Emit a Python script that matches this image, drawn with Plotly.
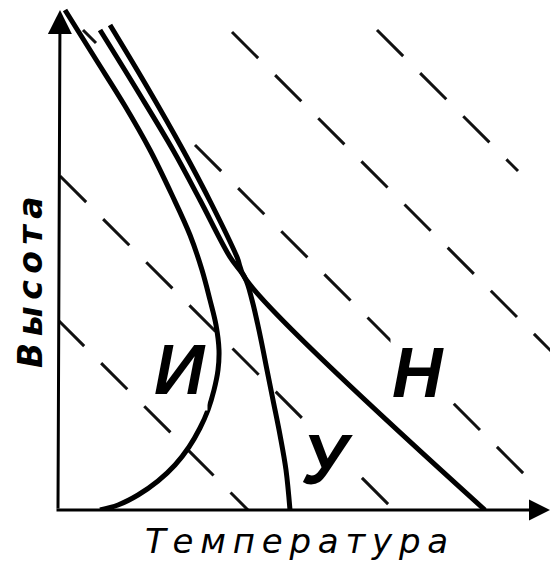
import plotly.graph_objects as go

# schematic: height vs temperature, units are arbitrary
curve_i_t = [7, 37, 67, 92, 114, 132, 144, 152, 158, 161, 160, 156, 150, 142, 131, 117, 100, 80, 60, 42]
curve_i_h = [500, 452, 404, 360, 315, 275, 240, 210, 185, 160, 140, 120, 100, 82, 63, 45, 29, 15, 5, 0]

curve_u_t = [42, 79, 115, 142, 172, 187, 194, 202, 209, 215, 222, 228, 232]
curve_u_h = [480, 420, 360, 310, 253, 232, 210, 175, 140, 110, 75, 40, 0]

curve_n_t = [52, 88, 125, 154, 179, 187, 427]
curve_n_h = [485, 425, 360, 305, 253, 232, 0]

# dry adiabats: H = c - T, drawn between t_from and t_to
adiabat_c = [799, 652, 505, 502, 336, 190]
adiabat_t_from = [319, 174, 25, 137, 2, 0]
adiabat_t_to = [460, 500, 38, 475, 334, 190]

labels = ["И", "У", "Н"]
label_t = [122, 269, 360]
label_h = [140, 50, 137]

x_title = "Температура"
y_title = "Высота"

# page has an 8px body margin, plot area starts at page x=58, H=0 sits at page y=510
X0, Y0 = 58, 510
XSPAN, YSPAN = 508, 502

fig = go.Figure()

for c, t0, t1 in zip(adiabat_c, adiabat_t_from, adiabat_t_to):
    fig.add_trace(go.Scatter(x=[t0, t1], y=[c - t0, c - t1], mode="lines",
                             line=dict(color="#111", width=3, dash="37px,24px"),
                             hoverinfo="skip"))

for xs, ys in [(curve_i_t, curve_i_h), (curve_u_t, curve_u_h), (curve_n_t, curve_n_h)]:
    fig.add_trace(go.Scatter(x=xs, y=ys, mode="lines", line_shape="spline",
                             line=dict(color="#000", width=5), hoverinfo="skip"))

# axis arrows
fig.add_annotation(x=2, y=500, ax=0, ay=0, axref="x", ayref="y", text="",
                   showarrow=True, arrowhead=2, arrowsize=1.6, arrowwidth=3, arrowcolor="#000")
fig.add_annotation(x=492, y=0, ax=-3, ay=0, axref="x", ayref="y", text="",
                   showarrow=True, arrowhead=2, arrowsize=1.4, arrowwidth=3, arrowcolor="#000")

for txt, t, h in zip(labels, label_t, label_h):
    fig.add_annotation(x=t, y=h, text="<b><i>%s</i></b>" % txt, showarrow=False,
                       bgcolor="white", font=dict(family="Liberation Sans", size=70, color="#000"))

thin = "\u2009"
fig.add_annotation(x=(296 - X0) / XSPAN, y=(Y0 - 541) / YSPAN, xref="paper", yref="paper",
                   xanchor="center", yanchor="middle",
                   text="<i>%s</i>" % thin.join(x_title), showarrow=False,
                   font=dict(family="DejaVu Sans", size=34, color="#000"))
fig.add_annotation(x=(30 - X0) / XSPAN, y=(Y0 - 282) / YSPAN, xref="paper", yref="paper",
                   xanchor="center", yanchor="middle", borderpad=0,
                   text="<b><i>%s</i></b>" % thin.join(y_title), showarrow=False, textangle=-90,
                   font=dict(family="DejaVu Sans", size=33, color="#000"))

fig.update_layout(width=558, height=566, showlegend=False,
                  margin=dict(l=50, r=0, t=0, b=64),
                  paper_bgcolor="white", plot_bgcolor="white")
fig.update_xaxes(range=[0, XSPAN], visible=False)
fig.update_yaxes(range=[0, YSPAN], visible=False)

fig.write_html("out.html")
